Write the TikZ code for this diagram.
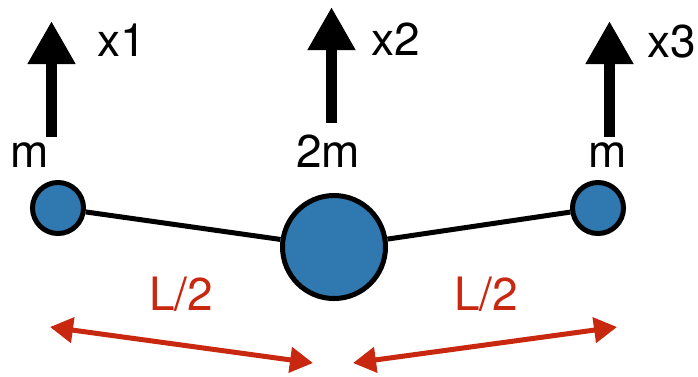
\documentclass[tikz,border=0pt]{standalone}
\usepackage{fontspec}
\setmainfont{TeX Gyre Heros}
\usetikzlibrary{arrows.meta,shadows}

\definecolor{ballblue}{RGB}{47,121,176}
\definecolor{dimred}{RGB}{200,40,15}

\tikzset{
  ball/.style={circle, draw=black, line width=5pt, fill=ballblue, inner sep=0pt,
    drop shadow={opacity=0.18, shadow xshift=0pt, shadow yshift=-3pt}},
  rod/.style={line width=5pt},
  disp/.style={line width=11pt, -{Triangle[length=43pt,width=45pt]}},
  dimarrow/.style={dimred, line width=5pt, {Triangle[length=23pt,width=25pt]}-{Triangle[length=23pt,width=25pt]}},
  lbl/.style={inner sep=0pt, font=\fontsize{46}{46}\selectfont}
}

\begin{document}
\begin{tikzpicture}[x=1pt, y=-1pt]
\useasboundingbox (0,0) rectangle (698,376);

% Masses
\node[ball, minimum size=51pt] (m1) at (58,208) {};
\node[ball, minimum size=103pt] (m2) at (334,247) {};
\node[ball, minimum size=51pt] (m3) at (598,208) {};

% Rods between masses
\draw[rod] (m1) -- (m2);
\draw[rod] (m2) -- (m3);

% Mass labels
\node[lbl, anchor=base] (w1) at (30,167) {m};
\node[lbl, anchor=base] (w2) at (328,167) {2m};
\node[lbl, anchor=base] (w3) at (608,167) {m};

% Displacement arrows
\coordinate (b1) at (51.5,137);
\coordinate (b2) at (331.5,123);
\coordinate (b3) at (609.5,137);
\coordinate (t1) at (51.5,21);
\coordinate (t2) at (331.5,7);
\coordinate (t3) at (609.5,21);
\draw[disp] (b1) -- (t1);
\draw[disp] (b2) -- (t2);
\draw[disp] (b3) -- (t3);
\node[lbl, anchor=base west] (x1) at (97,56) {x1};
\node[lbl, anchor=base west] (x2) at (371,55) {x2};
\node[lbl, anchor=base west] (x3) at (647,57) {x3};

% Half lengths
\coordinate (a1) at (50,327);
\coordinate (a2) at (313,363);
\coordinate (a3) at (353,363);
\coordinate (a4) at (617,327);
\draw[dimarrow] (a1) -- (a2);
\draw[dimarrow] (a3) -- (a4);
\node[lbl, dimred, anchor=base] (h1) at (181,310) {L/2};
\node[lbl, dimred, anchor=base] (h2) at (486,310) {L/2};
\end{tikzpicture}
\end{document}
